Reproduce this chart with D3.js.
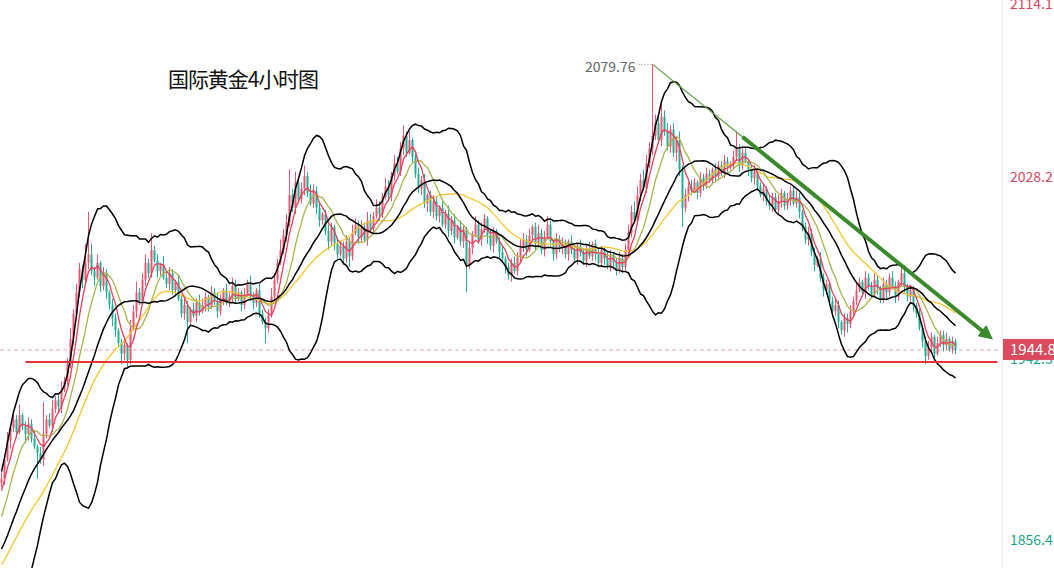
<!DOCTYPE html>
<html><head><meta charset="utf-8">
<script src="https://cdn.jsdelivr.net/npm/d3@7"></script>
<style>
html,body{margin:0;padding:0;background:#fff;}
svg{display:block;font-family:"Microsoft YaHei","Noto Sans CJK SC","Noto Sans",sans-serif;}
</style></head>
<body>
<svg id="chart" width="1054" height="568"></svg>
<script>
// ---- data ----
const title = "国际黄金4小时图";
const tickLabels = [1856.4, 1942.3, 2028.2, 2114.1];
const lastPrice = 1944.8;
const peakLabel = 2079.76;
const peakIndex = 217;
const supportLevel = 1939.1;
const supportRange = [8, 332];
const trendThin = [[217, 2079.76], [249, 2043.2]];
const trendArrow = [[247, 2045.5], [329, 1951.4]];

// closes before the visible window (indicator warm-up)
const warmCloses = [1822,1826,1824,1828,1826,1830,1828,1832,1829,1833,1831,1835,1832,1830,1834,1836,1833,1837,1835,1839,
1843,1848,1852,1850,1857,1863,1868,1872,1885,1882];

// visible 4h closes (open = previous close)
const closes = [
1884,1893,1902,1908,
1912,1906,1914,1909,1905,1910,1903,1899,
1896,1893,
1905,1912,1909,1917,1921,1918,1926,
1930,1938,1950,1962,
1972,1983,1978,1986,
1990,1982,1979,1986,1975,1981,1972,
1966,1960,1954,1948,1943,1947,1940,
1955,1963,1972,1968,
1978,1986,1981,1992,1987,1982,
1985,1979,1976,1981,1973,1977,
1969,1962,1966,1958,1964,1961,1967,1963,
1966,1970,1965,1972,1968,1963,1969,1973,1967,1970,1975,1969,1972,1966,1971,1976,1970,1967,1973,
1962,1958,1955,1961,
1970,1978,1986,1992,1999,2005,2018,2012,
2024,2016,2021,2027,2019,2014,2020,2012,
2006,2009,2001,1996,2003,1995,1990,1994,1988,
1996,1989,2000,2004,1998,2003,1997,2006,2002,2008,
2012,2009,2017,2022,2018,2027,2033,2029,
2040,2046,2038,2044,2036,
2028,2021,2025,2014,2018,2010,2015,2008,2012,
2004,2009,2001,2006,1998,2003,1996,2002,1985,1993,
1999,2004,1997,2002,2007,1999,1994,2001,1996,1991,
1988,1984,1980,1986,1982,1989,1993,
1997,1992,1999,2003,1995,2000,1992,1998,2004,1996,1990,1997,1993,
1995,1990,1996,1992,1988,1994,1991,1987,1993,1989,1995,1990,1986,1992,1988,1984,1990,1986,1982,1988,1984,
1992,2000,2010,2006,2018,2025,2021,2033,2040,
2046,
2052,2044,2055,2048,2041,2049,2038,2044,
2030,2012,2018,2022,
2020,2024,2019,2026,2023,2028,2025,2030,2027,2032,2029,2034,2031,2033,
2036,2040,2032,2038,2034,
2030,2026,2029,2022,2018,2021,2015,
2013,2017,2011,2015,2019,2013,2016,2020,2014,2017,
2010,2003,1997,2000,1991,1985,1988,1979,1973,1976,1968,1963,1966,1958,
1954,1960,1957,1963,1968,1973,
1977,1972,1979,1975,1971,1978,1974,1969,1976,1972,1979,1975,1970,1977,1981,
1975,1970,1973,1966,1962,
1955,1949,1942,1946,1951,1943,1948,
1952,1947,1950,1945,1949,1944.8
];

const upperWick = [
3,2,4,1,3,2,5,1,2,3, 2,4,1,3,15,2,3,4,2,3, 4,2,3,5,2,4,3,2,9,20, 5,2,4,1,3,2,1,3,2,1,
2,3,1,4,3,5,2,3,4,2, 8,2,3,1,4,2,3,2,1,3, 2,4,2,1,3,2,4,3,2,1, 3,2,4,2,1,3,2,4,3,2,
1,3,2,4,2,1,3,2,2,3, 4,3,2,5,3,4,12,3,5,2, 3,5,2,4,3,2,3,1,2,3, 2,1,3,2,2,3,2,4,3,2,
3,2,4,3,2,4,3,2,4,3, 2,4,3,3,5,2,4,1,2,3, 2,3,1,2,3,2,1,3,2,4, 2,3,1,3,2,1,3,2,4,2,
3,2,1,3,2,1,2,3,1,2, 2,3,2,4,3,2,3,1,2,4, 2,3,4,2,1,3,2,3,2,1, 3,2,1,3,2,2,3,1,2,3,
2,1,3,2,1,2,3,2,3,4, 3,5,4,3,5,4,3,33.76,4,3, 7,3,4,2,3,2,4,2,3,2, 3,2,1,3,2,3,2,1,3,2,
2,3,2,1,3,8,2,3,2,1, 2,3,1,2,2,1,3,2,2,3, 2,1,3,2,2,3,2,1,2,3, 2,2,1,3,2,2,1,2,3,2,
1,2,2,3,2,3,2,1,3,2, 2,3,2,1,3,2,2,3,2,1, 3,2,1,2,2,1,2,1,2,3, 2,1,3,2,2,3,1,2,1
];
const lowerWick = [
2,3,1,4,2,3,1,2,4,3, 2,1,12,2,3,2,1,3,2,2, 3,1,2,2,3,1,2,4,2,3, 2,4,1,3,2,3,2,4,3,2,
5,3,4,2,1,3,2,1,3,2, 2,1,3,2,1,2,3,2,3,1, 2,3,10,2,1,3,2,1,3,2, 1,2,3,2,3,1,2,3,2,1,
3,2,1,2,3,2,2,1,7,2, 1,2,2,1,2,3,2,2,3,2, 2,3,2,1,2,3,3,2,2,4, 2,3,2,1,3,2,5,2,1,3,
2,1,3,2,2,1,3,2,1,2, 3,2,1,2,3,2,1,3,2,2, 3,2,4,2,3,2,3,1,2,3, 2,3,1,2,3,13,2,3,1,2,
3,2,4,2,3,1,3,2,3,2, 3,1,2,3,2,3,1,2,3,2, 2,3,1,2,3,2,2,3,2,3, 2,1,3,2,2,3,1,2,3,2,
2,3,1,2,3,2,1,3,2,2, 2,1,2,3,1,2,2,3,2,2, 3,2,2,3,2,4,3,9,2,3, 2,1,3,2,3,2,1,2,3,2,
2,3,2,1,3,2,3,2,1,3, 2,3,2,1,3,2,2,3,1,2, 3,2,2,3,1,2,3,2,2,3, 2,3,1,2,3,2,2,3,2,3,
2,3,4,2,3,2,1,2,3,2, 2,1,3,2,2,3,2,1,3,2, 2,3,2,2,3,2,1,3,4,2, 2,3,1,2,3,2,1,2,2
];

// ---- layout ----
const svg = d3.select("#chart");
const plotW = 1000, H = 568;
const RED = "#ea5570", GREEN = "#22ad98";

const xScale = d3.scaleLinear().domain([0, closes.length - 1]).range([1.5, 955.5]);
const yScale = d3.scaleLinear().domain([1856.4, 2114.1]).range([537, -8.3]);

const W = warmCloses.length;
const all = warmCloses.concat(closes);

const candles = closes.map((c, i) => {
  const o = all[W + i - 1];
  return {i, o, c,
    h: Math.max(o, c) + (upperWick[i] || 0),
    l: Math.min(o, c) - (lowerWick[i] || 0)};
});

function ma(n) {
  return closes.map((_, i) => {
    const k = W + i;
    return {i, v: d3.mean(all.slice(k - n + 1, k + 1))};
  });
}
function boll(n, m) {
  return closes.map((_, i) => {
    const k = W + i;
    const s = all.slice(k - n + 1, k + 1);
    const mu = d3.mean(s);
    const sd = Math.sqrt(d3.mean(s, v => (v - mu) * (v - mu)));
    return {i, mid: mu, up: mu + m * sd, lo: mu - m * sd};
  });
}
const ma5 = ma(5), ma10 = ma(10), ma30 = ma(30), bb = boll(20, 2);

const defs = svg.append("defs");
defs.append("clipPath").attr("id", "clip")
  .append("rect").attr("x", 0).attr("y", 0).attr("width", plotW).attr("height", H);
defs.append("marker").attr("id", "ah")
  .attr("viewBox", "0 0 10 10").attr("refX", 6).attr("refY", 5)
  .attr("markerWidth", 3.6).attr("markerHeight", 3.6).attr("orient", "auto")
  .append("path").attr("d", "M0,0 L10,5 L0,10 z").attr("fill", "#3a8a2b");

// separator
svg.append("line").attr("x1", 1002.5).attr("x2", 1002.5).attr("y1", 0).attr("y2", H)
  .attr("stroke", "#ececec").attr("stroke-width", 1);

const g = svg.append("g").attr("clip-path", "url(#clip)");

// last price dashed line
g.append("line").attr("x1", 0).attr("x2", plotW)
  .attr("y1", yScale(lastPrice)).attr("y2", yScale(lastPrice))
  .attr("stroke", "#eba3ad").attr("stroke-dasharray", "4,3").attr("stroke-width", 1);

// candles
const cg = g.append("g");
cg.selectAll("line.wick").data(candles).join("line").attr("class", "wick")
  .attr("x1", d => xScale(d.i)).attr("x2", d => xScale(d.i))
  .attr("y1", d => yScale(d.h)).attr("y2", d => yScale(d.l))
  .attr("stroke", d => d.c >= d.o ? RED : GREEN).attr("stroke-width", 1);
cg.selectAll("rect.body").data(candles).join("rect").attr("class", "body")
  .attr("x", d => xScale(d.i) - 1).attr("width", 2)
  .attr("y", d => yScale(Math.max(d.o, d.c)))
  .attr("height", d => Math.max(1, Math.abs(yScale(d.o) - yScale(d.c))))
  .attr("fill", d => d.c >= d.o ? RED : GREEN);

// indicator lines
const lineV = d3.line().x(d => xScale(d.i)).y(d => yScale(d.v));
g.append("path").datum(ma30).attr("d", lineV).attr("fill", "none").attr("stroke", "#f3c631").attr("stroke-width", 1.3);
g.append("path").datum(ma10).attr("d", lineV).attr("fill", "none").attr("stroke", "#a9b44a").attr("stroke-width", 1.3);
g.append("path").datum(ma5).attr("d", lineV).attr("fill", "none").attr("stroke", "#e8405a").attr("stroke-width", 1.3);
["up", "mid", "lo"].forEach(key => {
  g.append("path").datum(bb)
    .attr("d", d3.line().x(d => xScale(d.i)).y(d => yScale(d[key])))
    .attr("fill", "none").attr("stroke", "#000").attr("stroke-width", 1.5);
});

// support line
g.append("line")
  .attr("x1", xScale(supportRange[0])).attr("x2", xScale(supportRange[1]))
  .attr("y1", yScale(supportLevel)).attr("y2", yScale(supportLevel))
  .attr("stroke", "#e8333a").attr("stroke-width", 2);

// trend lines
g.append("line")
  .attr("x1", xScale(trendThin[0][0])).attr("y1", yScale(trendThin[0][1]))
  .attr("x2", xScale(trendThin[1][0])).attr("y2", yScale(trendThin[1][1]))
  .attr("stroke", "#5c9c3e").attr("stroke-width", 1.2);
svg.append("line")
  .attr("x1", xScale(trendArrow[0][0])).attr("y1", yScale(trendArrow[0][1]))
  .attr("x2", xScale(trendArrow[1][0])).attr("y2", yScale(trendArrow[1][1]))
  .attr("stroke", "#3a8a2b").attr("stroke-width", 4).attr("marker-end", "url(#ah)");

// peak label
const px = xScale(peakIndex), py = yScale(peakLabel);
svg.append("line").attr("x1", px - 14).attr("x2", px).attr("y1", py).attr("y2", py)
  .attr("stroke", "#888").attr("stroke-dasharray", "1,2").attr("stroke-width", 1);
svg.append("text").attr("x", px - 17).attr("y", py + 3).attr("dy", "0.32em")
  .attr("text-anchor", "end").attr("font-size", 14).attr("fill", "#666")
  .text(d3.format(".2f")(peakLabel));

// title
svg.append("text").attr("x", 168).attr("y", 80).attr("dy", "0.35em")
  .attr("font-size", 21).attr("fill", "#111").attr("textLength", 151)
  .text(title);

// right axis
const axis = d3.axisRight(yScale).tickValues(tickLabels).tickSize(0).tickPadding(0)
  .tickFormat(d3.format(".1f"));
const ag = svg.append("g").attr("transform", "translate(1010,0)").call(axis);
ag.select(".domain").remove();
ag.selectAll(".tick").attr("transform", d => `translate(0,${Math.max(yScale(d) + 4, 5)})`);
ag.selectAll("text").attr("font-size", 14)
  .attr("font-family", "\"Microsoft YaHei\",\"Noto Sans CJK SC\",sans-serif")
  .attr("fill", d => d > lastPrice ? "#d4485f" : "#1e9f88");

// last price box
const ly = yScale(lastPrice);
svg.append("rect").attr("x", 1003).attr("y", ly - 11).attr("width", 51).attr("height", 21)
  .attr("fill", "#db4a5e");
svg.append("text").attr("x", 1010).attr("y", ly).attr("dy", "0.35em")
  .attr("font-size", 15).attr("fill", "#fff").text(d3.format(".1f")(lastPrice));
</script>
</body></html>
